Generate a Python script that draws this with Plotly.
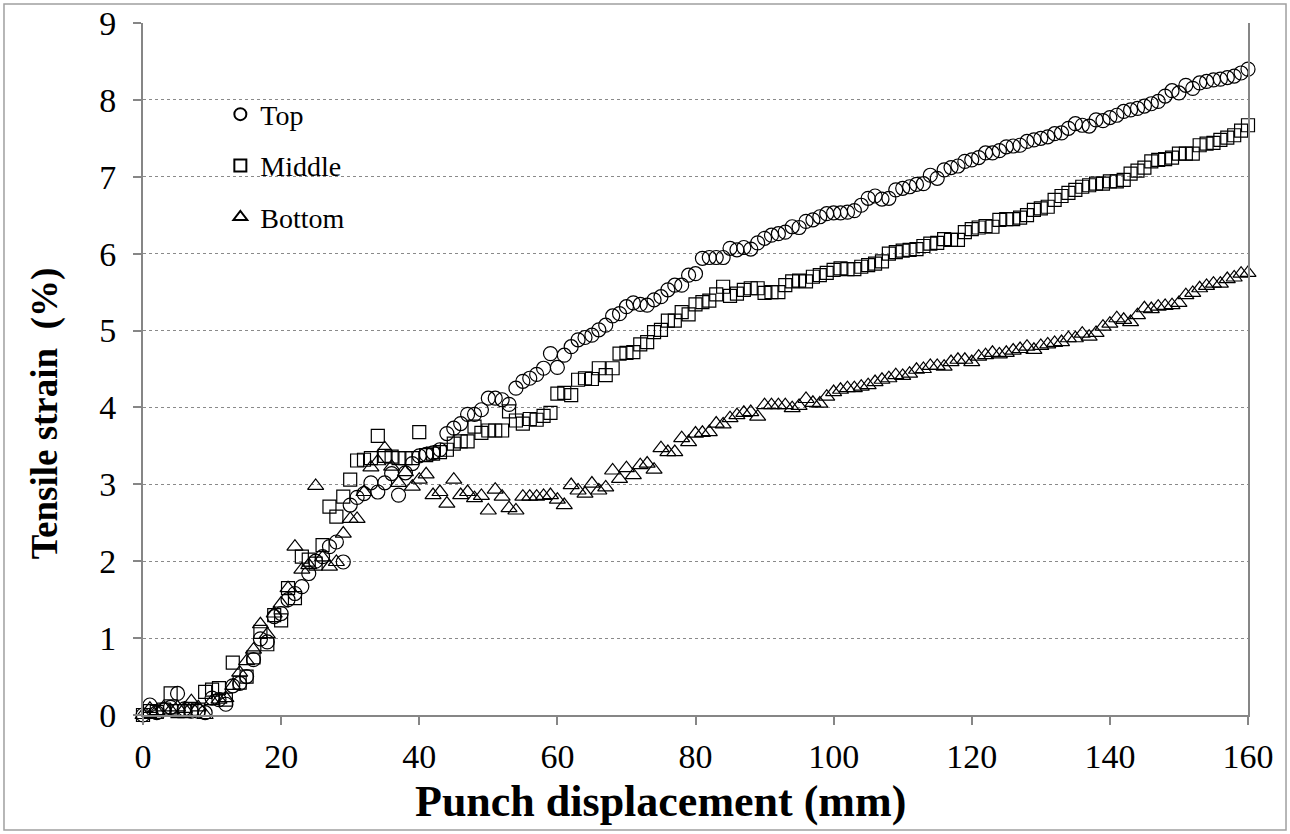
import plotly.graph_objects as go

x_mm = list(range(0, 161))

top = [0.0, 0.13, 0.03, 0.07, 0.10, 0.28, 0.08, 0.05, 0.05, 0.03, 0.22, 0.20, 0.14, 0.38, 0.41, 0.50, 0.72, 0.99, 0.95, 1.28, 1.32, 1.50, 1.58,
       1.67, 1.84, 2.00, 2.06, 2.19, 2.25, 1.99, 2.73, 2.83, 2.88, 3.02, 2.90, 3.02, 3.14, 2.86, 3.15, 3.27, 3.37, 3.39, 3.41, 3.45,
       3.66, 3.73, 3.79, 3.91, 3.91, 3.97, 4.12, 4.12, 4.10, 4.04, 4.25, 4.34, 4.38, 4.43, 4.51, 4.70, 4.52, 4.68, 4.79, 4.88, 4.91, 4.94, 5.01, 5.07, 5.19,
       5.22, 5.31, 5.36, 5.34, 5.33, 5.40, 5.44, 5.53, 5.59, 5.59, 5.72, 5.74, 5.94, 5.95, 5.95, 5.95, 6.07, 6.05, 6.08, 6.06, 6.14, 6.20, 6.24, 6.26, 6.28, 6.35, 6.34, 6.42, 6.44,
       6.48, 6.52, 6.53, 6.53, 6.54, 6.56, 6.63, 6.72, 6.75, 6.71, 6.72, 6.83, 6.85, 6.87, 6.90, 6.91, 7.02, 6.98, 7.09, 7.12, 7.14, 7.20, 7.22, 7.25, 7.31, 7.31, 7.34, 7.39, 7.40, 7.41,
       7.46, 7.48, 7.50, 7.52, 7.56, 7.57, 7.63, 7.69, 7.67, 7.66, 7.74, 7.73, 7.77, 7.80, 7.85, 7.87, 7.89, 7.92, 7.95, 7.98, 8.05, 8.12, 8.09, 8.19, 8.15, 8.22, 8.24, 8.26, 8.27, 8.29, 8.31, 8.35, 8.40]

middle = [0.0, 0.05, 0.04, 0.07, 0.28, 0.05, 0.05, 0.08, 0.07, 0.30, 0.33, 0.35, 0.20, 0.68, 0.42, 0.50, 0.75, 1.08, 0.92, 1.30, 1.23, 1.65, 1.52,
          2.06, 2.02, 1.97, 2.21, 2.71, 2.58, 2.84, 3.06, 3.31, 3.32, 3.34, 3.63, 3.37, 3.36, 3.34, 3.34, 3.34, 3.68, 3.38, 3.40, 3.42, 3.45,
          3.53, 3.56, 3.56, 3.75, 3.67, 3.70, 3.70, 3.70, 3.95, 3.83, 3.79, 3.85, 3.84, 3.89, 3.93, 4.18, 4.19, 4.16, 4.36, 4.38, 4.37, 4.51, 4.42, 4.51, 4.70, 4.71,
          4.72, 4.82, 4.85, 4.98, 5.01, 5.13, 5.13, 5.24, 5.21, 5.34, 5.37, 5.39, 5.47, 5.57, 5.45, 5.48, 5.53, 5.55, 5.55, 5.49, 5.50, 5.50, 5.59, 5.64, 5.65, 5.64,
          5.70, 5.72, 5.75, 5.79, 5.81, 5.80, 5.80, 5.83, 5.85, 5.87, 5.90, 6.00, 6.02, 6.04, 6.05, 6.06, 6.10, 6.13, 6.14, 6.19, 6.18, 6.18, 6.28, 6.32, 6.34, 6.36, 6.35, 6.44, 6.45, 6.45, 6.47,
          6.50, 6.57, 6.59, 6.61, 6.70, 6.75, 6.79, 6.83, 6.87, 6.89, 6.91, 6.91, 6.94, 6.94, 6.96, 7.04, 7.08, 7.12, 7.20, 7.22, 7.23, 7.25, 7.30, 7.30, 7.30, 7.41, 7.43, 7.44, 7.48, 7.51, 7.54, 7.60, 7.67]

bottom = [0.0, 0.08, 0.05, 0.10, 0.06, 0.10, 0.08, 0.18, 0.10, 0.0, 0.18, 0.20, 0.22, 0.38, 0.55, 0.70, 0.85, 1.18, 1.05, 1.32, 1.45, 1.65,
          2.19, 1.89, 1.95, 2.98, 2.05, 1.93, 1.99, 2.36, 2.55, 2.55, 2.90, 3.22, 3.30, 3.47, 3.23, 3.02, 3.16, 2.97, 3.06, 3.13, 2.86, 2.90, 2.75,
          3.06, 2.86, 2.90, 2.82, 2.85, 2.66, 2.93, 2.84, 2.69, 2.66, 2.84, 2.84, 2.84, 2.85, 2.86, 2.80, 2.73, 2.99, 2.92, 2.88, 3.01, 2.92, 2.96, 3.18, 3.07, 3.21,
          3.12, 3.25, 3.27, 3.19, 3.47, 3.42, 3.42, 3.60, 3.55, 3.66, 3.67, 3.68, 3.79, 3.78, 3.86, 3.90, 3.93, 3.94, 3.88, 4.03, 4.03, 4.03, 4.03, 3.99, 4.02, 4.11, 4.06,
          4.05, 4.14, 4.20, 4.23, 4.25, 4.25, 4.27, 4.29, 4.33, 4.36, 4.38, 4.42, 4.41, 4.44, 4.49, 4.50, 4.54, 4.54, 4.53, 4.59, 4.62, 4.62, 4.59, 4.66, 4.68, 4.71, 4.69, 4.71, 4.74, 4.76, 4.79,
          4.75, 4.80, 4.82, 4.84, 4.85, 4.90, 4.90, 4.96, 4.92, 4.97, 5.05, 5.09, 5.16, 5.14, 5.11, 5.20, 5.29, 5.28, 5.31, 5.32, 5.33, 5.36, 5.46, 5.49, 5.55, 5.58, 5.61, 5.61, 5.67, 5.69, 5.74, 5.75]

series_names = ["Top", "Middle", "Bottom"]
series_symbols = ["circle-open", "square-open", "triangle-up-open"]
series_sizes = [14, 13, 14]
x_ticks = [0, 20, 40, 60, 80, 100, 120, 140, 160]
y_ticks = [0, 1, 2, 3, 4, 5, 6, 7, 8, 9]

FONT = "Liberation Serif, Times New Roman, serif"
AX = "#868686"

fig = go.Figure()
for name, ys, sym, sz in zip(series_names, [top, middle, bottom], series_symbols, series_sizes):
    fig.add_trace(go.Scatter(
        x=x_mm[:len(ys)], y=ys, mode="markers", name=name,
        marker=dict(symbol=sym, size=sz, color="black", line=dict(width=1.2, color="black")),
        cliponaxis=False, legendgroup=name,
    ))

fig.update_layout(
    width=1290, height=834,
    margin=dict(l=143, r=42, t=23, b=119),
    paper_bgcolor="white", plot_bgcolor="white",
    font=dict(family=FONT, color="black"),
    showlegend=True,
    legend=dict(x=0.07, y=0.904, xanchor="left", yanchor="top",
                font=dict(size=28, family=FONT), bgcolor="rgba(0,0,0,0)",
                tracegroupgap=12, itemsizing="constant"),
    xaxis=dict(range=[0, 160], tickvals=x_ticks, showgrid=False, zeroline=False,
               showline=True, linecolor=AX, linewidth=2, ticks="outside", ticklen=8,
               tickcolor=AX, tickwidth=2, tickfont=dict(size=34, family=FONT),
               ticklabelstandoff=2, automargin=False),
    yaxis=dict(range=[0, 9], tickvals=y_ticks, showgrid=True, gridcolor="#8a8a8a",
               griddash="dot", gridwidth=1, zeroline=False,
               showline=True, mirror=True, linecolor=AX, linewidth=2, ticks="outside",
               ticklen=8, tickcolor=AX, tickwidth=2, tickfont=dict(size=34, family=FONT),
               ticklabelstandoff=10, automargin=False),
    annotations=[
        dict(text="<b>Punch displacement (mm)</b>", xref="paper", yref="paper",
             x=0.468, y=-0.125, xanchor="center", yanchor="middle", showarrow=False,
             font=dict(size=44, family=FONT)),
        dict(text="<b>Tensile strain  (%)</b>", xref="paper", yref="paper",
             x=-0.0887, y=0.436, xanchor="center", yanchor="middle", showarrow=False,
             textangle=-90, font=dict(size=37, family=FONT)),
    ],
    shapes=[dict(type="rect", xref="paper", yref="paper", x0=-0.1258, x1=1.0344,
                 y0=-0.1662, y1=1.0275, line=dict(color="#a0a0a0", width=1.5),
                 fillcolor="rgba(0,0,0,0)", layer="below")],
)

fig.write_html("out.html", config={"displayModeBar": False},
               post_script="document.body.style.margin='0px';")
